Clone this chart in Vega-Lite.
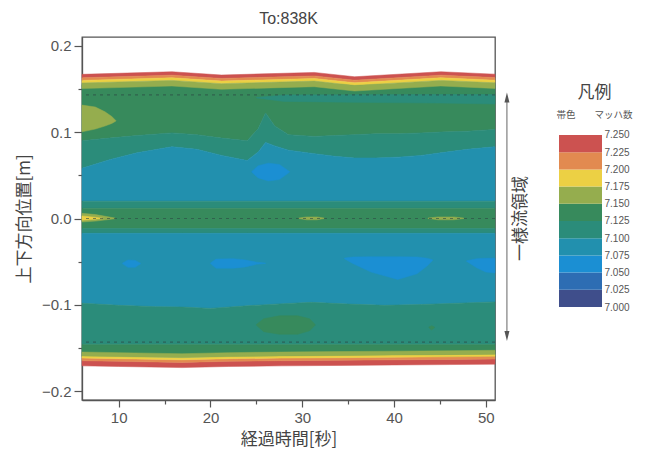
{
  "$schema": "https://vega.github.io/schema/vega-lite/v6.json",
  "background": "white",
  "padding": {"left": 14, "top": 10, "right": 0, "bottom": 0},
  "spacing": 26,
  "config": {
    "font": "Liberation Sans",
    "view": {"stroke": null},
    "axis": {
      "grid": false,
      "domainColor": "#555",
      "tickColor": "#555",
      "labelColor": "#555",
      "titleColor": "#444",
      "labelFont": "Liberation Sans",
      "titleFont": "Noto Sans CJK JP",
      "titleFontWeight": "normal"
    },
    "title": {"font": "Liberation Sans", "fontWeight": "normal", "color": "#444"}
  },
  "datasets": {
    "interior": [
      {"band": "g_top", "mach": "7.125–7.150", "t": 6, "lo": 0.090, "hi": 0.155},
      {"band": "g_top", "mach": "7.125–7.150", "t": 9, "lo": 0.093, "hi": 0.155},
      {"band": "g_top", "mach": "7.125–7.150", "t": 12, "lo": 0.096, "hi": 0.155},
      {"band": "g_top", "mach": "7.125–7.150", "t": 15.8, "lo": 0.099, "hi": 0.155},
      {"band": "g_top", "mach": "7.125–7.150", "t": 18.5, "lo": 0.097, "hi": 0.155},
      {"band": "g_top", "mach": "7.125–7.150", "t": 21.2, "lo": 0.093, "hi": 0.155},
      {"band": "g_top", "mach": "7.125–7.150", "t": 24, "lo": 0.090, "hi": 0.155},
      {"band": "g_top", "mach": "7.125–7.150", "t": 25.2, "lo": 0.104, "hi": 0.155},
      {"band": "g_top", "mach": "7.125–7.150", "t": 26, "lo": 0.122, "hi": 0.155},
      {"band": "g_top", "mach": "7.125–7.150", "t": 27, "lo": 0.107, "hi": 0.155},
      {"band": "g_top", "mach": "7.125–7.150", "t": 28.5, "lo": 0.097, "hi": 0.155},
      {"band": "g_top", "mach": "7.125–7.150", "t": 31.3, "lo": 0.095, "hi": 0.155},
      {"band": "g_top", "mach": "7.125–7.150", "t": 33.5, "lo": 0.096, "hi": 0.155},
      {"band": "g_top", "mach": "7.125–7.150", "t": 35.7, "lo": 0.097, "hi": 0.155},
      {"band": "g_top", "mach": "7.125–7.150", "t": 38, "lo": 0.098, "hi": 0.155},
      {"band": "g_top", "mach": "7.125–7.150", "t": 40.5, "lo": 0.098, "hi": 0.155},
      {"band": "g_top", "mach": "7.125–7.150", "t": 43, "lo": 0.099, "hi": 0.155},
      {"band": "g_top", "mach": "7.125–7.150", "t": 45.1, "lo": 0.100, "hi": 0.155},
      {"band": "g_top", "mach": "7.125–7.150", "t": 48, "lo": 0.101, "hi": 0.155},
      {"band": "g_top", "mach": "7.125–7.150", "t": 51, "lo": 0.103, "hi": 0.155},

      {"band": "tg_top", "mach": "7.100–7.125", "t": 6, "lo": 0.058, "hi": 0.090},
      {"band": "tg_top", "mach": "7.100–7.125", "t": 9, "lo": 0.068, "hi": 0.093},
      {"band": "tg_top", "mach": "7.100–7.125", "t": 12, "lo": 0.076, "hi": 0.096},
      {"band": "tg_top", "mach": "7.100–7.125", "t": 15.8, "lo": 0.083, "hi": 0.099},
      {"band": "tg_top", "mach": "7.100–7.125", "t": 18.5, "lo": 0.080, "hi": 0.097},
      {"band": "tg_top", "mach": "7.100–7.125", "t": 21.2, "lo": 0.073, "hi": 0.093},
      {"band": "tg_top", "mach": "7.100–7.125", "t": 24, "lo": 0.067, "hi": 0.090},
      {"band": "tg_top", "mach": "7.100–7.125", "t": 25.2, "lo": 0.077, "hi": 0.104},
      {"band": "tg_top", "mach": "7.100–7.125", "t": 26, "lo": 0.088, "hi": 0.122},
      {"band": "tg_top", "mach": "7.100–7.125", "t": 27, "lo": 0.084, "hi": 0.107},
      {"band": "tg_top", "mach": "7.100–7.125", "t": 28.5, "lo": 0.079, "hi": 0.097},
      {"band": "tg_top", "mach": "7.100–7.125", "t": 31.3, "lo": 0.075, "hi": 0.095},
      {"band": "tg_top", "mach": "7.100–7.125", "t": 33.5, "lo": 0.072, "hi": 0.096},
      {"band": "tg_top", "mach": "7.100–7.125", "t": 35.7, "lo": 0.070, "hi": 0.097},
      {"band": "tg_top", "mach": "7.100–7.125", "t": 38, "lo": 0.070, "hi": 0.098},
      {"band": "tg_top", "mach": "7.100–7.125", "t": 40.5, "lo": 0.071, "hi": 0.098},
      {"band": "tg_top", "mach": "7.100–7.125", "t": 43, "lo": 0.073, "hi": 0.099},
      {"band": "tg_top", "mach": "7.100–7.125", "t": 45.1, "lo": 0.076, "hi": 0.100},
      {"band": "tg_top", "mach": "7.100–7.125", "t": 48, "lo": 0.080, "hi": 0.101},
      {"band": "tg_top", "mach": "7.100–7.125", "t": 51, "lo": 0.083, "hi": 0.103},

      {"band": "tb_top", "mach": "7.075–7.100", "t": 6, "lo": 0.020, "hi": 0.058},
      {"band": "tb_top", "mach": "7.075–7.100", "t": 9, "lo": 0.020, "hi": 0.068},
      {"band": "tb_top", "mach": "7.075–7.100", "t": 12, "lo": 0.020, "hi": 0.076},
      {"band": "tb_top", "mach": "7.075–7.100", "t": 15.8, "lo": 0.020, "hi": 0.083},
      {"band": "tb_top", "mach": "7.075–7.100", "t": 18.5, "lo": 0.020, "hi": 0.080},
      {"band": "tb_top", "mach": "7.075–7.100", "t": 21.2, "lo": 0.020, "hi": 0.073},
      {"band": "tb_top", "mach": "7.075–7.100", "t": 24, "lo": 0.020, "hi": 0.067},
      {"band": "tb_top", "mach": "7.075–7.100", "t": 25.2, "lo": 0.020, "hi": 0.077},
      {"band": "tb_top", "mach": "7.075–7.100", "t": 26, "lo": 0.020, "hi": 0.088},
      {"band": "tb_top", "mach": "7.075–7.100", "t": 27, "lo": 0.020, "hi": 0.084},
      {"band": "tb_top", "mach": "7.075–7.100", "t": 28.5, "lo": 0.020, "hi": 0.079},
      {"band": "tb_top", "mach": "7.075–7.100", "t": 31.3, "lo": 0.020, "hi": 0.075},
      {"band": "tb_top", "mach": "7.075–7.100", "t": 33.5, "lo": 0.020, "hi": 0.072},
      {"band": "tb_top", "mach": "7.075–7.100", "t": 35.7, "lo": 0.020, "hi": 0.070},
      {"band": "tb_top", "mach": "7.075–7.100", "t": 38, "lo": 0.020, "hi": 0.070},
      {"band": "tb_top", "mach": "7.075–7.100", "t": 40.5, "lo": 0.020, "hi": 0.071},
      {"band": "tb_top", "mach": "7.075–7.100", "t": 43, "lo": 0.020, "hi": 0.073},
      {"band": "tb_top", "mach": "7.075–7.100", "t": 45.1, "lo": 0.020, "hi": 0.076},
      {"band": "tb_top", "mach": "7.075–7.100", "t": 48, "lo": 0.020, "hi": 0.080},
      {"band": "tb_top", "mach": "7.075–7.100", "t": 51, "lo": 0.020, "hi": 0.083},

      {"band": "tg_c1", "mach": "7.100–7.125", "t": 6, "lo": 0.0117, "hi": 0.020},
      {"band": "tg_c1", "mach": "7.100–7.125", "t": 51, "lo": 0.0117, "hi": 0.020},
      {"band": "g_c", "mach": "7.125–7.150", "t": 6, "lo": -0.0115, "hi": 0.0117},
      {"band": "g_c", "mach": "7.125–7.150", "t": 51, "lo": -0.0115, "hi": 0.0117},
      {"band": "tg_c2", "mach": "7.100–7.125", "t": 6, "lo": -0.0172, "hi": -0.0115},
      {"band": "tg_c2", "mach": "7.100–7.125", "t": 51, "lo": -0.0172, "hi": -0.0115},

      {"band": "tb_bot", "mach": "7.075–7.100", "t": 6, "lo": -0.098, "hi": -0.0172},
      {"band": "tb_bot", "mach": "7.075–7.100", "t": 10, "lo": -0.1005, "hi": -0.0172},
      {"band": "tb_bot", "mach": "7.075–7.100", "t": 14, "lo": -0.102, "hi": -0.0172},
      {"band": "tb_bot", "mach": "7.075–7.100", "t": 17, "lo": -0.1025, "hi": -0.0172},
      {"band": "tb_bot", "mach": "7.075–7.100", "t": 20, "lo": -0.104, "hi": -0.0172},
      {"band": "tb_bot", "mach": "7.075–7.100", "t": 24, "lo": -0.101, "hi": -0.0172},
      {"band": "tb_bot", "mach": "7.075–7.100", "t": 28, "lo": -0.0985, "hi": -0.0172},
      {"band": "tb_bot", "mach": "7.075–7.100", "t": 31, "lo": -0.097, "hi": -0.0172},
      {"band": "tb_bot", "mach": "7.075–7.100", "t": 35, "lo": -0.099, "hi": -0.0172},
      {"band": "tb_bot", "mach": "7.075–7.100", "t": 39, "lo": -0.1005, "hi": -0.0172},
      {"band": "tb_bot", "mach": "7.075–7.100", "t": 43, "lo": -0.0995, "hi": -0.0172},
      {"band": "tb_bot", "mach": "7.075–7.100", "t": 47, "lo": -0.098, "hi": -0.0172},
      {"band": "tb_bot", "mach": "7.075–7.100", "t": 51, "lo": -0.0965, "hi": -0.0172},

      {"band": "tg_bot", "mach": "7.100–7.125", "t": 6, "lo": -0.146, "hi": -0.098},
      {"band": "tg_bot", "mach": "7.100–7.125", "t": 10, "lo": -0.146, "hi": -0.1005},
      {"band": "tg_bot", "mach": "7.100–7.125", "t": 14, "lo": -0.146, "hi": -0.102},
      {"band": "tg_bot", "mach": "7.100–7.125", "t": 17, "lo": -0.146, "hi": -0.1025},
      {"band": "tg_bot", "mach": "7.100–7.125", "t": 20, "lo": -0.146, "hi": -0.104},
      {"band": "tg_bot", "mach": "7.100–7.125", "t": 24, "lo": -0.146, "hi": -0.101},
      {"band": "tg_bot", "mach": "7.100–7.125", "t": 28, "lo": -0.146, "hi": -0.0985},
      {"band": "tg_bot", "mach": "7.100–7.125", "t": 31, "lo": -0.146, "hi": -0.097},
      {"band": "tg_bot", "mach": "7.100–7.125", "t": 35, "lo": -0.146, "hi": -0.099},
      {"band": "tg_bot", "mach": "7.100–7.125", "t": 39, "lo": -0.146, "hi": -0.1005},
      {"band": "tg_bot", "mach": "7.100–7.125", "t": 43, "lo": -0.146, "hi": -0.0995},
      {"band": "tg_bot", "mach": "7.100–7.125", "t": 47, "lo": -0.146, "hi": -0.098},
      {"band": "tg_bot", "mach": "7.100–7.125", "t": 51, "lo": -0.146, "hi": -0.0965},

      {"band": "g_bot", "mach": "7.125–7.150", "t": 6, "lo": -0.160, "hi": -0.146},
      {"band": "g_bot", "mach": "7.125–7.150", "t": 51, "lo": -0.160, "hi": -0.146}
    ],
    "edges": [
      {"band": "top_red", "mach": "7.225–7.250", "t": 6, "lo": 0.1628, "hi": 0.1668},
      {"band": "top_red", "mach": "7.225–7.250", "t": 15.8, "lo": 0.1658, "hi": 0.1698},
      {"band": "top_red", "mach": "7.225–7.250", "t": 21.2, "lo": 0.1620, "hi": 0.1660},
      {"band": "top_red", "mach": "7.225–7.250", "t": 31.3, "lo": 0.1650, "hi": 0.1690},
      {"band": "top_red", "mach": "7.225–7.250", "t": 35.7, "lo": 0.1600, "hi": 0.1640},
      {"band": "top_red", "mach": "7.225–7.250", "t": 45.1, "lo": 0.1658, "hi": 0.1698},
      {"band": "top_red", "mach": "7.225–7.250", "t": 51, "lo": 0.1630, "hi": 0.1670},
      {"band": "top_orange", "mach": "7.200–7.225", "t": 6, "lo": 0.1598, "hi": 0.1628},
      {"band": "top_orange", "mach": "7.200–7.225", "t": 15.8, "lo": 0.1628, "hi": 0.1658},
      {"band": "top_orange", "mach": "7.200–7.225", "t": 21.2, "lo": 0.1590, "hi": 0.1620},
      {"band": "top_orange", "mach": "7.200–7.225", "t": 31.3, "lo": 0.1620, "hi": 0.1650},
      {"band": "top_orange", "mach": "7.200–7.225", "t": 35.7, "lo": 0.1570, "hi": 0.1600},
      {"band": "top_orange", "mach": "7.200–7.225", "t": 45.1, "lo": 0.1628, "hi": 0.1658},
      {"band": "top_orange", "mach": "7.200–7.225", "t": 51, "lo": 0.1600, "hi": 0.1630},
      {"band": "top_yellow", "mach": "7.175–7.200", "t": 6, "lo": 0.1568, "hi": 0.1598},
      {"band": "top_yellow", "mach": "7.175–7.200", "t": 15.8, "lo": 0.1598, "hi": 0.1628},
      {"band": "top_yellow", "mach": "7.175–7.200", "t": 21.2, "lo": 0.1560, "hi": 0.1590},
      {"band": "top_yellow", "mach": "7.175–7.200", "t": 31.3, "lo": 0.1590, "hi": 0.1620},
      {"band": "top_yellow", "mach": "7.175–7.200", "t": 35.7, "lo": 0.1540, "hi": 0.1570},
      {"band": "top_yellow", "mach": "7.175–7.200", "t": 45.1, "lo": 0.1598, "hi": 0.1628},
      {"band": "top_yellow", "mach": "7.175–7.200", "t": 51, "lo": 0.1570, "hi": 0.1600},
      {"band": "top_olive", "mach": "7.150–7.175", "t": 6, "lo": 0.1503, "hi": 0.1568},
      {"band": "top_olive", "mach": "7.150–7.175", "t": 15.8, "lo": 0.1533, "hi": 0.1598},
      {"band": "top_olive", "mach": "7.150–7.175", "t": 21.2, "lo": 0.1495, "hi": 0.1560},
      {"band": "top_olive", "mach": "7.150–7.175", "t": 31.3, "lo": 0.1525, "hi": 0.1590},
      {"band": "top_olive", "mach": "7.150–7.175", "t": 35.7, "lo": 0.1475, "hi": 0.1540},
      {"band": "top_olive", "mach": "7.150–7.175", "t": 45.1, "lo": 0.1533, "hi": 0.1598},
      {"band": "top_olive", "mach": "7.150–7.175", "t": 51, "lo": 0.1505, "hi": 0.1570},

      {"band": "bot_red", "mach": "7.225–7.250", "t": 6, "lo": -0.1705, "hi": -0.1645},
      {"band": "bot_red", "mach": "7.225–7.250", "t": 10, "lo": -0.1712, "hi": -0.1652},
      {"band": "bot_red", "mach": "7.225–7.250", "t": 16.9, "lo": -0.1725, "hi": -0.1665},
      {"band": "bot_red", "mach": "7.225–7.250", "t": 22, "lo": -0.1712, "hi": -0.1652},
      {"band": "bot_red", "mach": "7.225–7.250", "t": 27.7, "lo": -0.1705, "hi": -0.1645},
      {"band": "bot_red", "mach": "7.225–7.250", "t": 34, "lo": -0.1700, "hi": -0.1640},
      {"band": "bot_red", "mach": "7.225–7.250", "t": 40, "lo": -0.1695, "hi": -0.1635},
      {"band": "bot_red", "mach": "7.225–7.250", "t": 46, "lo": -0.1690, "hi": -0.1630},
      {"band": "bot_red", "mach": "7.225–7.250", "t": 51, "lo": -0.1685, "hi": -0.1625},
      {"band": "bot_orange", "mach": "7.200–7.225", "t": 6, "lo": -0.1645, "hi": -0.1615},
      {"band": "bot_orange", "mach": "7.200–7.225", "t": 10, "lo": -0.1652, "hi": -0.1622},
      {"band": "bot_orange", "mach": "7.200–7.225", "t": 16.9, "lo": -0.1665, "hi": -0.1635},
      {"band": "bot_orange", "mach": "7.200–7.225", "t": 22, "lo": -0.1652, "hi": -0.1622},
      {"band": "bot_orange", "mach": "7.200–7.225", "t": 27.7, "lo": -0.1645, "hi": -0.1615},
      {"band": "bot_orange", "mach": "7.200–7.225", "t": 34, "lo": -0.1640, "hi": -0.1610},
      {"band": "bot_orange", "mach": "7.200–7.225", "t": 40, "lo": -0.1635, "hi": -0.1605},
      {"band": "bot_orange", "mach": "7.200–7.225", "t": 46, "lo": -0.1630, "hi": -0.1600},
      {"band": "bot_orange", "mach": "7.200–7.225", "t": 51, "lo": -0.1625, "hi": -0.1595},
      {"band": "bot_yellow", "mach": "7.175–7.200", "t": 6, "lo": -0.1615, "hi": -0.1590},
      {"band": "bot_yellow", "mach": "7.175–7.200", "t": 10, "lo": -0.1622, "hi": -0.1597},
      {"band": "bot_yellow", "mach": "7.175–7.200", "t": 16.9, "lo": -0.1635, "hi": -0.1610},
      {"band": "bot_yellow", "mach": "7.175–7.200", "t": 22, "lo": -0.1622, "hi": -0.1597},
      {"band": "bot_yellow", "mach": "7.175–7.200", "t": 27.7, "lo": -0.1615, "hi": -0.1590},
      {"band": "bot_yellow", "mach": "7.175–7.200", "t": 34, "lo": -0.1610, "hi": -0.1585},
      {"band": "bot_yellow", "mach": "7.175–7.200", "t": 40, "lo": -0.1605, "hi": -0.1580},
      {"band": "bot_yellow", "mach": "7.175–7.200", "t": 46, "lo": -0.1600, "hi": -0.1575},
      {"band": "bot_yellow", "mach": "7.175–7.200", "t": 51, "lo": -0.1595, "hi": -0.1570},
      {"band": "bot_olive", "mach": "7.150–7.175", "t": 6, "lo": -0.1590, "hi": -0.1545},
      {"band": "bot_olive", "mach": "7.150–7.175", "t": 10, "lo": -0.1597, "hi": -0.1552},
      {"band": "bot_olive", "mach": "7.150–7.175", "t": 16.9, "lo": -0.1610, "hi": -0.1565},
      {"band": "bot_olive", "mach": "7.150–7.175", "t": 22, "lo": -0.1597, "hi": -0.1552},
      {"band": "bot_olive", "mach": "7.150–7.175", "t": 27.7, "lo": -0.1590, "hi": -0.1545},
      {"band": "bot_olive", "mach": "7.150–7.175", "t": 34, "lo": -0.1585, "hi": -0.1540},
      {"band": "bot_olive", "mach": "7.150–7.175", "t": 40, "lo": -0.1580, "hi": -0.1535},
      {"band": "bot_olive", "mach": "7.150–7.175", "t": 46, "lo": -0.1575, "hi": -0.1530},
      {"band": "bot_olive", "mach": "7.150–7.175", "t": 51, "lo": -0.1570, "hi": -0.1525}
    ],
    "islands": [
      {"band": "olive_tl", "mach": "7.150–7.175", "t": 6, "lo": 0.1003, "hi": 0.1312},
      {"band": "olive_tl", "mach": "7.150–7.175", "t": 7.45, "lo": 0.1035, "hi": 0.129},
      {"band": "olive_tl", "mach": "7.150–7.175", "t": 8.5, "lo": 0.107, "hi": 0.1235},
      {"band": "olive_tl", "mach": "7.150–7.175", "t": 9.25, "lo": 0.110, "hi": 0.118},
      {"band": "olive_tl", "mach": "7.150–7.175", "t": 9.7, "lo": 0.1128, "hi": 0.1132},

      {"band": "strip_t", "mach": "7.100–7.125", "t": 25, "lo": 0.1395, "hi": 0.1400},
      {"band": "strip_t", "mach": "7.100–7.125", "t": 28, "lo": 0.1355, "hi": 0.1430},
      {"band": "strip_t", "mach": "7.100–7.125", "t": 35, "lo": 0.1345, "hi": 0.1432},
      {"band": "strip_t", "mach": "7.100–7.125", "t": 45, "lo": 0.1335, "hi": 0.1435},
      {"band": "strip_t", "mach": "7.100–7.125", "t": 51, "lo": 0.1325, "hi": 0.1435},

      {"band": "blue_t", "mach": "7.050–7.075", "t": 24.5, "lo": 0.0535, "hi": 0.0545},
      {"band": "blue_t", "mach": "7.050–7.075", "t": 25.2, "lo": 0.047, "hi": 0.061},
      {"band": "blue_t", "mach": "7.050–7.075", "t": 26.3, "lo": 0.0435, "hi": 0.064},
      {"band": "blue_t", "mach": "7.050–7.075", "t": 27.5, "lo": 0.045, "hi": 0.0625},
      {"band": "blue_t", "mach": "7.050–7.075", "t": 28.6, "lo": 0.0535, "hi": 0.0545},

      {"band": "blue_b1", "mach": "7.050–7.075", "t": 10.4, "lo": -0.0522, "hi": -0.0518},
      {"band": "blue_b1", "mach": "7.050–7.075", "t": 11.0, "lo": -0.0565, "hi": -0.048},
      {"band": "blue_b1", "mach": "7.050–7.075", "t": 11.8, "lo": -0.0565, "hi": -0.0485},
      {"band": "blue_b1", "mach": "7.050–7.075", "t": 12.4, "lo": -0.0522, "hi": -0.052},

      {"band": "blue_b2", "mach": "7.050–7.075", "t": 20.0, "lo": -0.052, "hi": -0.0515},
      {"band": "blue_b2", "mach": "7.050–7.075", "t": 20.6, "lo": -0.0575, "hi": -0.047},
      {"band": "blue_b2", "mach": "7.050–7.075", "t": 22.5, "lo": -0.0575, "hi": -0.0465},
      {"band": "blue_b2", "mach": "7.050–7.075", "t": 23.8, "lo": -0.056, "hi": -0.048},
      {"band": "blue_b2", "mach": "7.050–7.075", "t": 25.0, "lo": -0.053, "hi": -0.0505},
      {"band": "blue_b2", "mach": "7.050–7.075", "t": 26.0, "lo": -0.0519, "hi": -0.0516},

      {"band": "blue_b3", "mach": "7.050–7.075", "t": 34.6, "lo": -0.0465, "hi": -0.0458},
      {"band": "blue_b3", "mach": "7.050–7.075", "t": 35.5, "lo": -0.052, "hi": -0.0445},
      {"band": "blue_b3", "mach": "7.050–7.075", "t": 37.5, "lo": -0.062, "hi": -0.0443},
      {"band": "blue_b3", "mach": "7.050–7.075", "t": 40.4, "lo": -0.0705, "hi": -0.0443},
      {"band": "blue_b3", "mach": "7.050–7.075", "t": 42.5, "lo": -0.064, "hi": -0.0445},
      {"band": "blue_b3", "mach": "7.050–7.075", "t": 43.6, "lo": -0.055, "hi": -0.046},
      {"band": "blue_b3", "mach": "7.050–7.075", "t": 44.2, "lo": -0.0485, "hi": -0.0478},

      {"band": "blue_b4", "mach": "7.050–7.075", "t": 47.9, "lo": -0.0495, "hi": -0.049},
      {"band": "blue_b4", "mach": "7.050–7.075", "t": 49, "lo": -0.057, "hi": -0.0465},
      {"band": "blue_b4", "mach": "7.050–7.075", "t": 50, "lo": -0.062, "hi": -0.046},
      {"band": "blue_b4", "mach": "7.050–7.075", "t": 51, "lo": -0.063, "hi": -0.046},

      {"band": "green_b", "mach": "7.125–7.150", "t": 25.0, "lo": -0.1235, "hi": -0.1225},
      {"band": "green_b", "mach": "7.125–7.150", "t": 25.8, "lo": -0.131, "hi": -0.116},
      {"band": "green_b", "mach": "7.125–7.150", "t": 27.5, "lo": -0.134, "hi": -0.1125},
      {"band": "green_b", "mach": "7.125–7.150", "t": 29.5, "lo": -0.134, "hi": -0.1125},
      {"band": "green_b", "mach": "7.125–7.150", "t": 30.8, "lo": -0.130, "hi": -0.116},
      {"band": "green_b", "mach": "7.125–7.150", "t": 31.4, "lo": -0.1235, "hi": -0.1225},

      {"band": "green_dot", "mach": "7.125–7.150", "t": 43.8, "lo": -0.1265, "hi": -0.1255},
      {"band": "green_dot", "mach": "7.125–7.150", "t": 44.1, "lo": -0.129, "hi": -0.124},
      {"band": "green_dot", "mach": "7.125–7.150", "t": 44.4, "lo": -0.1265, "hi": -0.1255},

      {"band": "olive_c1", "mach": "7.150–7.175", "t": 6, "lo": -0.004, "hi": 0.006},
      {"band": "olive_c1", "mach": "7.150–7.175", "t": 7.5, "lo": -0.003, "hi": 0.0045},
      {"band": "olive_c1", "mach": "7.150–7.175", "t": 9.6, "lo": -0.0003, "hi": 0.0005},
      {"band": "olive_c2", "mach": "7.150–7.175", "t": 29.6, "lo": 0, "hi": 0.0005},
      {"band": "olive_c2", "mach": "7.150–7.175", "t": 30.5, "lo": -0.0015, "hi": 0.0018},
      {"band": "olive_c2", "mach": "7.150–7.175", "t": 31.6, "lo": -0.0015, "hi": 0.0018},
      {"band": "olive_c2", "mach": "7.150–7.175", "t": 32.4, "lo": 0, "hi": 0.0005},
      {"band": "olive_c3", "mach": "7.150–7.175", "t": 43.7, "lo": 0, "hi": 0.0005},
      {"band": "olive_c3", "mach": "7.150–7.175", "t": 44.8, "lo": -0.0015, "hi": 0.0018},
      {"band": "olive_c3", "mach": "7.150–7.175", "t": 46.5, "lo": -0.0015, "hi": 0.0018},
      {"band": "olive_c3", "mach": "7.150–7.175", "t": 47.6, "lo": 0, "hi": 0.0005},
      {"band": "yellow_c1", "mach": "7.175–7.200", "t": 6, "lo": -0.002, "hi": 0.003},
      {"band": "yellow_c1", "mach": "7.175–7.200", "t": 7.3, "lo": -0.001, "hi": 0.0015},
      {"band": "yellow_c1", "mach": "7.175–7.200", "t": 8.2, "lo": 0, "hi": 0.0004}
    ],
    "guides": [{"y": 0.143}, {"y": 0}, {"y": -0.143}],
    "span": [{"t": 52.3, "lo": -0.137, "hi": 0.141}],
    "heads": [{"t": 52.3, "y": 0.140, "dir": "up"}, {"t": 52.3, "y": -0.136, "dir": "down"}],
    "note": [{"t": 53.8, "y": 0, "text": "一様流領域"}],
    "levels": [
      {"mach": "7.000–7.025", "lo": 7.000, "hi": 7.025},
      {"mach": "7.025–7.050", "lo": 7.025, "hi": 7.050},
      {"mach": "7.050–7.075", "lo": 7.050, "hi": 7.075},
      {"mach": "7.075–7.100", "lo": 7.075, "hi": 7.100},
      {"mach": "7.100–7.125", "lo": 7.100, "hi": 7.125},
      {"mach": "7.125–7.150", "lo": 7.125, "hi": 7.150},
      {"mach": "7.150–7.175", "lo": 7.150, "hi": 7.175},
      {"mach": "7.175–7.200", "lo": 7.175, "hi": 7.200},
      {"mach": "7.200–7.225", "lo": 7.200, "hi": 7.225},
      {"mach": "7.225–7.250", "lo": 7.225, "hi": 7.250}
    ]
  },
  "hconcat": [
    {
      "width": 413,
      "height": 363,
      "title": {"text": "To:838K", "fontSize": 16, "offset": 10, "anchor": "middle", "frame": "group"},
      "view": {"stroke": "#555", "strokeWidth": 1.3},
      "resolve": {"axis": {"x": "independent", "y": "independent"}},
      "layer": [
        {
          "data": {"name": "interior"},
          "mark": {"type": "area", "strokeWidth": 0.6},
          "encoding": {
            "x": {"field": "t", "type": "quantitative", "scale": {"domain": [6, 51], "nice": false, "zero": false},
              "axis": {"orient": "bottom", "values": [10, 20, 30, 40, 50], "tickSize": 7, "tickWidth": 1.2, "domainWidth": 1.3, "labelPadding": 3, "labelFontSize": 15, "title": "経過時間[秒]", "titleFontSize": 17, "titlePadding": 6}},
            "y": {"field": "lo", "type": "quantitative", "scale": {"domain": [-0.21, 0.21], "nice": false, "zero": false},
              "axis": {"orient": "left", "values": [-0.2, -0.1, 0, 0.1, 0.2], "format": ".1f", "tickSize": 8, "tickWidth": 1.2, "domainWidth": 1.3, "labelPadding": 3, "labelFontSize": 15, "title": "上下方向位置[m]", "titleFontSize": 17, "titlePadding": 8}},
            "y2": {"field": "hi"},
            "color": {"field": "mach", "type": "nominal", "legend": null,
              "scale": {"domain": ["7.000–7.025", "7.025–7.050", "7.050–7.075", "7.075–7.100", "7.100–7.125", "7.125–7.150", "7.150–7.175", "7.175–7.200", "7.200–7.225", "7.225–7.250"],
                "range": ["#3f4e8b", "#2d6db3", "#1b8fd3", "#2290ae", "#2b8c7a", "#378a5c", "#95ad4e", "#ecd044", "#e28a50", "#cc5250"]}},
            "stroke": {"field": "mach", "type": "nominal", "legend": null,
              "scale": {"domain": ["7.000–7.025", "7.025–7.050", "7.050–7.075", "7.075–7.100", "7.100–7.125", "7.125–7.150", "7.150–7.175", "7.175–7.200", "7.200–7.225", "7.225–7.250"],
                "range": ["#3f4e8b", "#2d6db3", "#1b8fd3", "#2290ae", "#2b8c7a", "#378a5c", "#95ad4e", "#ecd044", "#e28a50", "#cc5250"]}},
            "detail": {"field": "band"}
          }
        },
        {
          "data": {"name": "edges"},
          "mark": {"type": "area", "strokeWidth": 0.5},
          "encoding": {
            "x": {"field": "t", "type": "quantitative", "scale": {"domain": [6, 51], "nice": false, "zero": false},
              "axis": {"orient": "bottom", "values": [15, 25, 35, 45], "labels": false, "domain": false, "tickSize": 4, "tickWidth": 1.2, "title": null}},
            "y": {"field": "lo", "type": "quantitative", "scale": {"domain": [-0.21, 0.21], "nice": false, "zero": false},
              "axis": {"orient": "left", "values": [-0.15, -0.05, 0.05, 0.15], "labels": false, "domain": false, "tickSize": 4, "tickWidth": 1.2, "title": null}},
            "y2": {"field": "hi"},
            "color": {"field": "mach", "type": "nominal", "legend": null},
            "stroke": {"field": "mach", "type": "nominal", "legend": null},
            "detail": {"field": "band"}
          }
        },
        {
          "data": {"name": "islands"},
          "mark": {"type": "area", "strokeWidth": 0.5},
          "encoding": {
            "x": {"field": "t", "type": "quantitative", "scale": {"domain": [6, 51], "nice": false, "zero": false}, "axis": null},
            "y": {"field": "lo", "type": "quantitative", "scale": {"domain": [-0.21, 0.21], "nice": false, "zero": false}, "axis": null},
            "y2": {"field": "hi"},
            "color": {"field": "mach", "type": "nominal", "legend": null},
            "stroke": {"field": "mach", "type": "nominal", "legend": null},
            "detail": {"field": "band"}
          }
        },
        {
          "data": {"name": "guides"},
          "mark": {"type": "rule", "color": "#2c4842", "strokeDash": [3, 4], "strokeWidth": 1.2, "opacity": 0.6},
          "encoding": {
            "y": {"field": "y", "type": "quantitative", "scale": {"domain": [-0.21, 0.21], "nice": false, "zero": false}, "axis": null}
          }
        },
        {
          "data": {"name": "span"},
          "mark": {"type": "rule", "color": "#666", "strokeWidth": 1},
          "encoding": {
            "x": {"field": "t", "type": "quantitative", "scale": {"domain": [6, 51], "nice": false, "zero": false}, "axis": null},
            "y": {"field": "lo", "type": "quantitative", "scale": {"domain": [-0.21, 0.21], "nice": false, "zero": false}, "axis": null},
            "y2": {"field": "hi"}
          }
        },
        {
          "data": {"name": "heads"},
          "mark": {"type": "point", "filled": true, "size": 100, "color": "#555", "opacity": 1},
          "encoding": {
            "x": {"field": "t", "type": "quantitative", "scale": {"domain": [6, 51], "nice": false, "zero": false}, "axis": null},
            "y": {"field": "y", "type": "quantitative", "scale": {"domain": [-0.21, 0.21], "nice": false, "zero": false}, "axis": null},
            "shape": {"field": "dir", "type": "nominal", "legend": null,
              "scale": {"domain": ["up", "down"], "range": ["M0,-1L0.5,1L-0.5,1Z", "M0,1L0.5,-1L-0.5,-1Z"]}}
          }
        },
        {
          "data": {"name": "note"},
          "mark": {"type": "text", "angle": 270, "align": "center", "baseline": "middle", "font": "Noto Sans CJK JP", "fontSize": 17, "color": "#444"},
          "encoding": {
            "x": {"field": "t", "type": "quantitative", "scale": {"domain": [6, 51], "nice": false, "zero": false}, "axis": null},
            "y": {"field": "y", "type": "quantitative", "scale": {"domain": [-0.21, 0.21], "nice": false, "zero": false}, "axis": null},
            "text": {"field": "text"}
          }
        }
      ]
    },
    {
      "width": 43,
      "height": 270,
      "data": {"name": "levels"},
      "title": {
        "text": "凡例",
        "subtitle": "帯色　　マッハ数",
        "font": "Noto Sans CJK JP",
        "subtitleFont": "Noto Sans CJK JP",
        "fontSize": 17,
        "subtitleFontSize": 9.5,
        "subtitleColor": "#555",
        "subtitlePadding": 8,
        "anchor": "middle",
        "frame": "group",
        "offset": 0,
        "dx": 14,
        "dy": 83
      },
      "mark": {"type": "rect"},
      "encoding": {
        "y": {"field": "lo", "type": "quantitative", "scale": {"domain": [7.0, 7.3924], "nice": false, "zero": false},
          "axis": {"orient": "right", "values": [7.0, 7.025, 7.05, 7.075, 7.1, 7.125, 7.15, 7.175, 7.2, 7.225, 7.25], "format": ".3f", "domain": false, "ticks": false, "labelPadding": 2, "labelFontSize": 10, "labelColor": "#555", "title": null}},
        "y2": {"field": "hi"},
        "color": {"field": "mach", "type": "nominal", "legend": null}
      }
    }
  ]
}
